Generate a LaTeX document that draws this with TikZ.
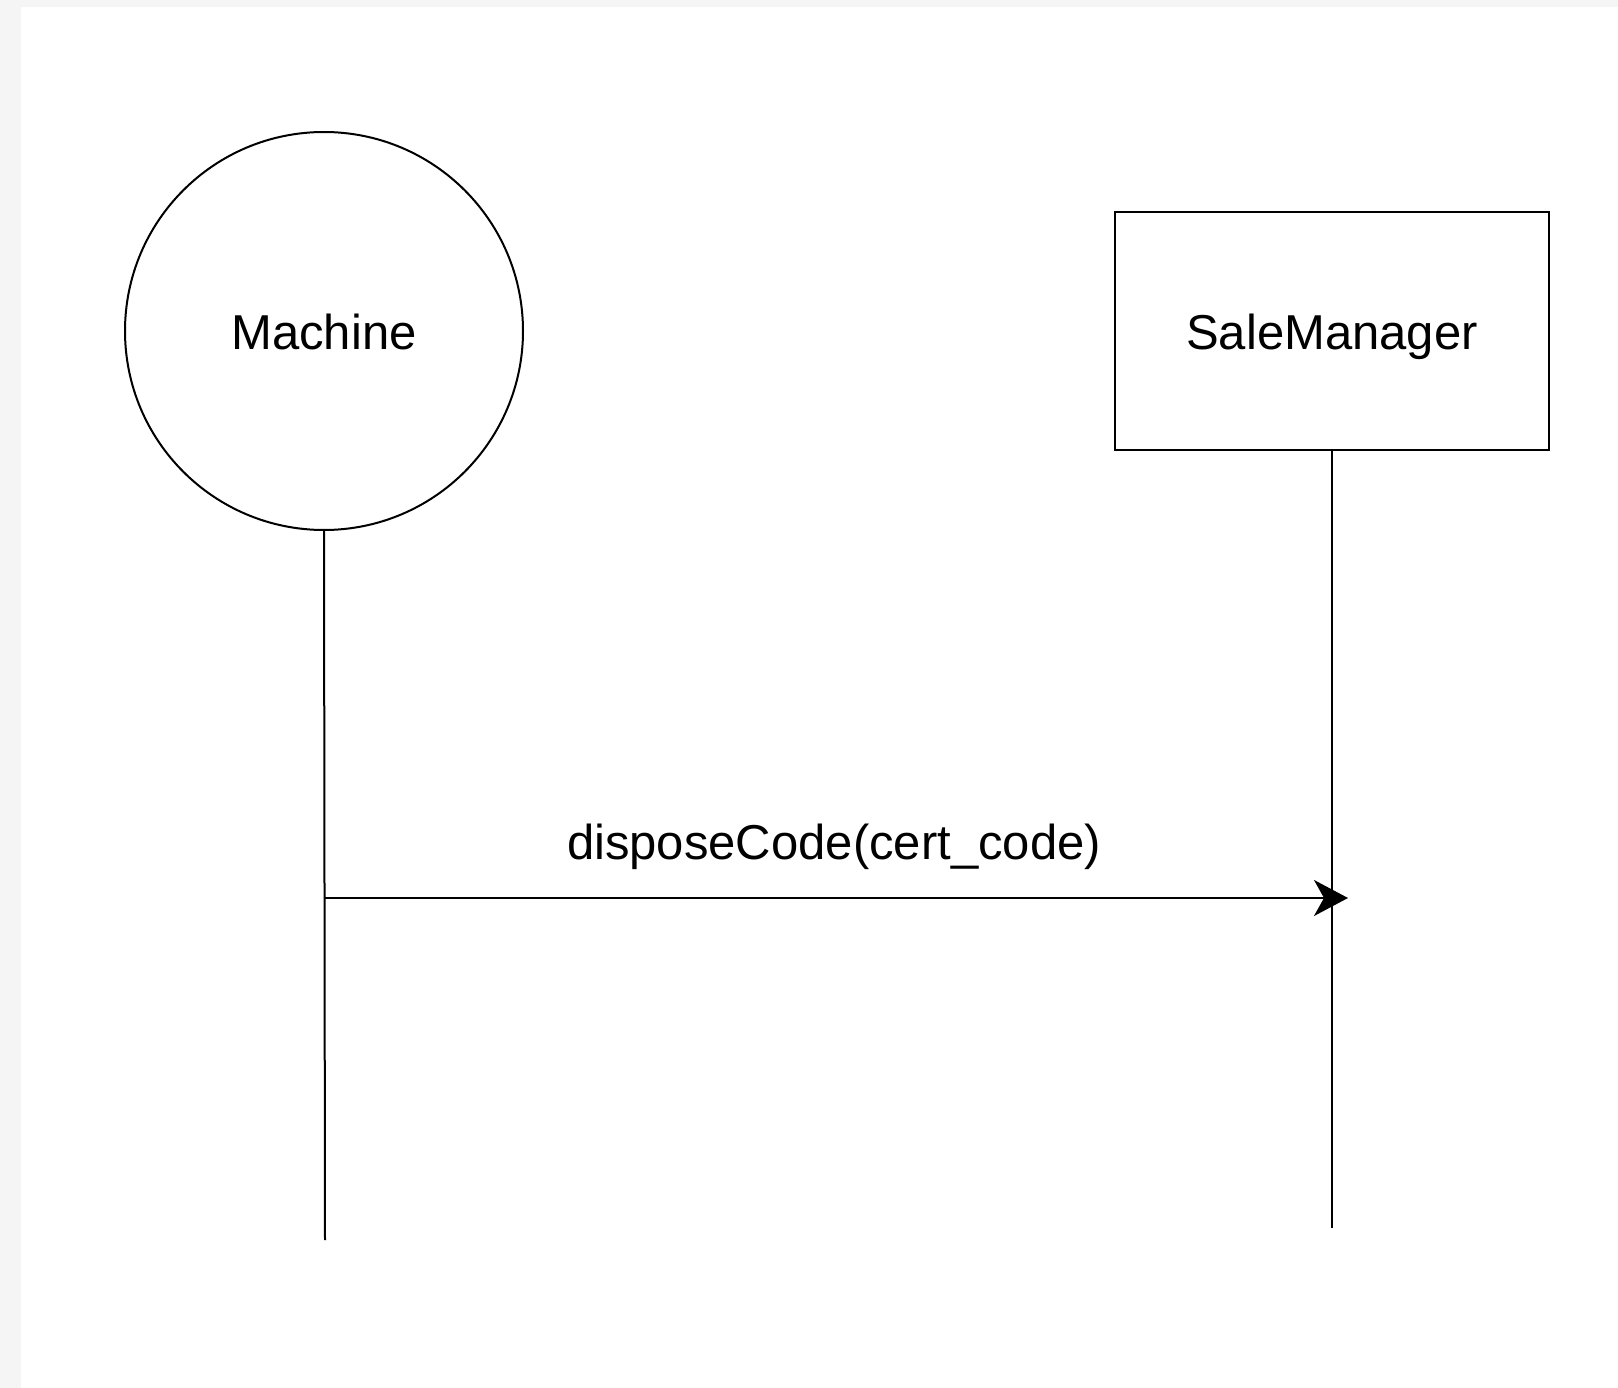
\documentclass[tikz,border=0pt]{standalone}
\usepackage{fontspec}
\setmainfont{Liberation Sans}
\usetikzlibrary{arrows.meta}
\definecolor{bggray}{HTML}{F5F5F5}
\begin{document}
\begin{tikzpicture}[x=1pt,y=-1pt,
  lifeline/.style={line width=2pt, black},
  actor/.style={draw, line width=2pt, inner sep=0pt},
  lbl/.style={font=\fontsize{49}{58}\selectfont, inner sep=0pt},
  msg/.style={line width=2.2pt, -{Stealth[length=34pt,width=36pt,inset=10pt]}}]
\useasboundingbox (0,0) rectangle (1618,1388);
\fill[bggray] (0,0) rectangle (1618,1388);
\fill[white] (21,7) rectangle (1618,1388);
\node[actor, circle, minimum size=398pt] (machine) at (324,331) {};
\node[lbl, anchor=base] (machinelbl) at (324,350) {Machine};
\node[actor, rectangle, minimum width=434pt, minimum height=238pt] (sale) at (1332,331) {};
\node[lbl, anchor=base] (salelbl) at (1332,350) {SaleManager};
\coordinate (mend) at (325,1240);
\coordinate (send) at (1332,1228);
\draw[lifeline] (machine.south) -- (mend);
\draw[lifeline] (sale.south) -- (send);
\coordinate (mstart) at (325,898);
\coordinate (mtip) at (1348,898);
\draw[msg] (mstart) -- (mtip);
\node[lbl] (msglbl) at (834,847) {disposeCode(cert\_code)};
\end{tikzpicture}
\end{document}
